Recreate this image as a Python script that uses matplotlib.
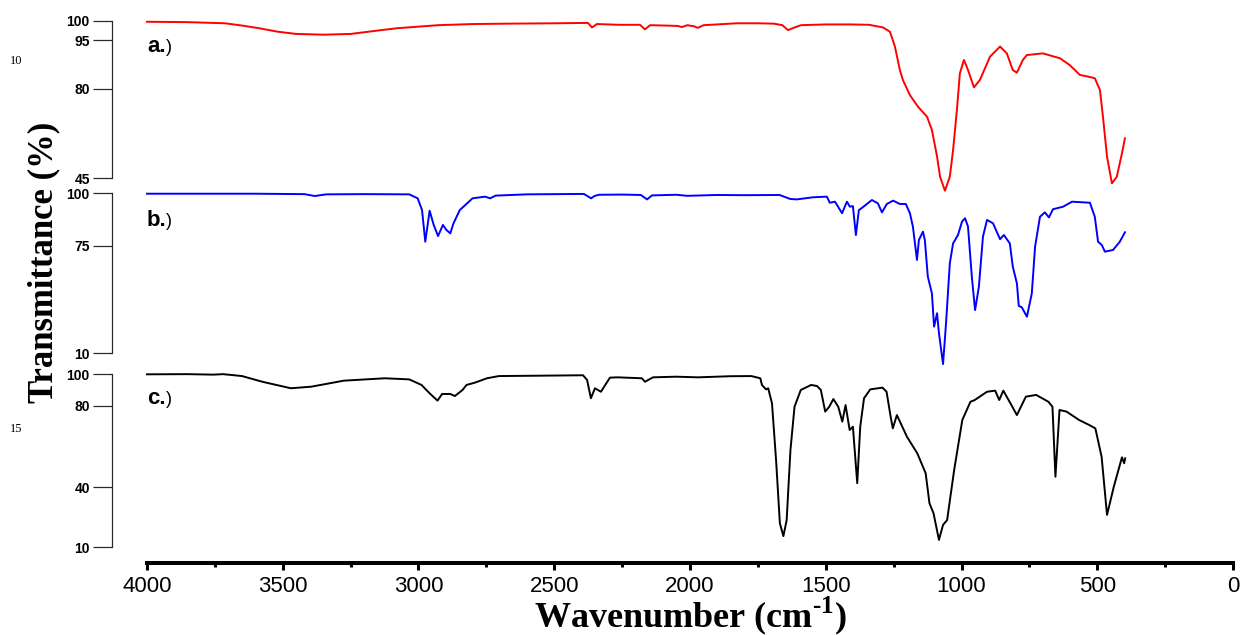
import numpy as np
import matplotlib
matplotlib.use("Agg")
import matplotlib.pyplot as plt
from matplotlib.ticker import NullLocator, FixedLocator

# ---------------- data ----------------
WN_A = [4000, 3850, 3713, 3650, 3587, 3520, 3451, 3348, 3249, 3160,
        3079, 2928, 2800, 2674, 2500, 2376, 2361, 2343, 2260, 2184,
        2166, 2147, 2090, 2045, 2030, 2010, 1985, 1971, 1950, 1900,
        1827, 1750, 1691, 1660, 1639, 1615, 1591, 1500, 1411, 1340,
        1289, 1264, 1253, 1245, 1227, 1216, 1190, 1160, 1127, 1109,
        1090, 1079, 1061, 1043, 1031, 1017, 1006, 991, 976, 954,
        932, 895, 858, 833, 811, 796, 774, 759, 700, 637,
        601, 564, 534, 509, 490, 479, 464, 446, 428, 409, 398]
T_A = [99.8, 99.7, 99.4, 98.8, 98.1, 97.2, 96.6, 96.4, 96.6, 97.4,
       98.1, 98.9, 99.2, 99.3, 99.4, 99.5, 98.3, 99.2, 99.0, 99.0,
       97.8, 98.9, 98.8, 98.7, 98.4, 98.9, 98.6, 98.2, 98.9, 99.1,
       99.4, 99.4, 99.3, 98.9, 97.6, 98.3, 98.9, 99.1, 99.1, 99.0,
       98.3, 97.2, 95.0, 92.9, 85.8, 82.8, 77.6, 73.0, 69.1, 63.9,
       53.4, 45.5, 40.0, 45.5, 56.0, 71.7, 84.8, 88.9, 85.8, 80.5,
       82.8, 89.9, 93.0, 90.9, 85.8, 85.0, 88.9, 90.4, 90.9, 89.4,
       87.3, 84.3, 83.8, 83.3, 79.6, 69.1, 53.4, 42.9, 45.5, 54.7, 60.6]

WN_B = [4000, 3600, 3420, 3382, 3340, 3200, 3034, 3003, 2987, 2975,
        2959, 2944, 2928, 2910, 2897, 2883, 2871, 2848, 2801, 2755,
        2736, 2716, 2600, 2391, 2364, 2352, 2335, 2250, 2181, 2158,
        2140, 2050, 2010, 1900, 1800, 1670, 1631, 1606, 1547, 1496,
        1485, 1466, 1440, 1422, 1411, 1400, 1389, 1378, 1367, 1330,
        1308, 1293, 1275, 1252, 1227, 1205, 1190, 1179, 1164, 1157,
        1142, 1135, 1124, 1109, 1101, 1090, 1083, 1068, 1057, 1043,
        1031, 1013, 998, 987, 976, 962, 950, 936, 921, 906,
        884, 858, 844, 822, 811, 796, 789, 778, 759, 741,
        729, 711, 693, 678, 663, 626, 593, 527, 509, 497,
        483, 472, 442, 417, 398]
T_B = [99.8, 99.8, 99.6, 98.7, 99.5, 99.6, 99.5, 97.6, 92.0, 76.9,
       91.7, 84.9, 79.6, 84.9, 82.5, 80.9, 85.7, 92.0, 97.6, 98.4,
       97.6, 98.9, 99.5, 99.7, 97.6, 98.7, 99.3, 99.4, 99.2, 97.1,
       99.0, 99.3, 98.8, 99.2, 99.1, 99.2, 97.3, 97.1, 98.1, 98.4,
       95.5, 96.0, 90.5, 96.0, 93.6, 93.9, 80.1, 92.0, 93.0, 96.8,
       95.2, 90.9, 94.9, 96.5, 94.9, 94.9, 90.5, 84.1, 66.4, 77.7,
       81.7, 77.7, 56.3, 46.2, 26.1, 34.2, 22.1, 3.5, 28.1, 64.4,
       76.1, 80.1, 86.5, 88.1, 84.1, 56.3, 36.1, 50.2, 79.3, 87.3,
       85.7, 78.1, 80.1, 76.1, 62.3, 52.3, 38.6, 37.8, 32.1, 46.2,
       74.4, 88.8, 90.9, 88.5, 92.4, 93.6, 96.0, 95.5, 88.8, 76.9,
       75.3, 71.4, 72.4, 76.9, 81.4]

WN_C = [4000, 3850, 3755, 3720, 3690, 3650, 3575, 3470, 3395, 3275,
        3124, 3034, 2989, 2959, 2930, 2913, 2883, 2866, 2838, 2823,
        2793, 2748, 2704, 2394, 2379, 2365, 2350, 2328, 2295, 2267,
        2177, 2166, 2136, 2050, 1971, 1850, 1774, 1741, 1735, 1720,
        1712, 1698, 1683, 1669, 1656, 1644, 1630, 1615, 1592, 1554,
        1532, 1518, 1502, 1487, 1472, 1454, 1439, 1427, 1412, 1400,
        1384, 1373, 1359, 1336, 1291, 1276, 1261, 1253, 1238, 1201,
        1163, 1132, 1118, 1103, 1083, 1068, 1053, 1027, 997, 967,
        952, 906, 876, 861, 846, 823, 796, 763, 725, 680,
        665, 654, 639, 613, 567, 529, 507, 484, 464, 439,
        409, 401, 397]
T_C = [99.8, 99.9, 99.6, 99.9, 99.4, 98.7, 95.1, 91.0, 92.0, 95.8,
       97.3, 96.6, 93.1, 87.8, 83.2, 87.4, 87.4, 86.1, 89.9, 93.1,
       94.5, 97.3, 98.7, 99.2, 96.2, 84.7, 91.0, 88.8, 97.7, 97.9,
       97.3, 95.1, 97.9, 98.3, 97.9, 98.6, 98.7, 97.3, 93.1, 90.3,
       91.0, 81.5, 53.4, 22.0, 15.6, 23.6, 58.3, 79.5, 89.9, 93.1,
       92.4, 89.9, 77.1, 79.5, 84.2, 79.5, 72.2, 80.4, 68.1, 69.7,
       42.0, 69.7, 84.7, 90.3, 91.4, 88.8, 74.6, 68.9, 75.4, 64.8,
       56.7, 46.9, 32.0, 27.0, 13.7, 21.2, 23.6, 48.5, 73.0, 82.5,
       83.5, 88.8, 89.5, 83.6, 89.5, 82.5, 75.4, 85.7, 86.8, 82.5,
       79.5, 45.2, 77.9, 77.1, 73.0, 70.5, 68.9, 55.0, 26.2, 40.3,
       54.7, 51.8, 54.2]

TICKS_A = [45, 80, 95, 100]
TICKS_B = [10, 75, 100]
TICKS_C = [10, 40, 80, 100]
X_TICKS = [4000, 3500, 3000, 2500, 2000, 1500, 1000, 500, 0]
LABELS = ["a.", "b.", "c."]

# ---------------- layout (pixels) ----------------
W, H = 1242, 635
TICK_PX_A = [178, 89, 40, 21]
TICK_PX_B = [353.3, 245.7, 193.3]
TICK_PX_C = [547.3, 487.3, 405.7, 374]
X_LEFT, X_RIGHT, X_AXIS_Y = 147, 1233, 563

plt.rcParams["font.family"] = ["Liberation Sans", "DejaVu Sans"]
plt.rcParams["mathtext.fontset"] = "custom"
plt.rcParams["mathtext.bf"] = "Liberation Serif:bold"
plt.rcParams["mathtext.rm"] = "Liberation Serif:bold"

fig = plt.figure(figsize=(W / 100, H / 100), dpi=100)


def fx(px):
    return px / W


def fy(py):
    return 1 - py / H


def make_funcs(vals, pix):
    v = np.array(vals, float)
    p = -np.array(pix, float)

    def lin(x, a, b):
        x = np.asarray(x, float)
        y = np.interp(x, a, b)
        s0 = (b[1] - b[0]) / (a[1] - a[0])
        s1 = (b[-1] - b[-2]) / (a[-1] - a[-2])
        y = np.where(x < a[0], b[0] + (x - a[0]) * s0, y)
        y = np.where(x > a[-1], b[-1] + (x - a[-1]) * s1, y)
        return y

    return (lambda x: lin(x, v, p)), (lambda y: lin(y, p, v))


panels = [
    (WN_A, T_A, "#ff0000", TICKS_A, TICK_PX_A, 10, 200, LABELS[0], 52),
    (WN_B, T_B, "#0000ff", TICKS_B, TICK_PX_B, 186, 372, LABELS[1], 226.5),
    (WN_C, T_C, "#000000", TICKS_C, TICK_PX_C, 368, 556, LABELS[2], 404.5),
]

spine_col = "#2a2a2a"
panel_axes = []
for wn, t, col, ticks, tpx, top, bot, lab, lab_y in panels:
    ax = fig.add_axes([fx(X_LEFT), fy(bot), (X_RIGHT - X_LEFT) / W, (bot - top) / H])
    ax.set_facecolor("none")
    fwd, inv = make_funcs(ticks, tpx)
    ax.set_yscale("function", functions=(fwd, inv))
    ax.set_ylim(float(inv(-bot)), float(inv(-top)))
    ax.set_xlim(4000, 0)
    ax.plot(wn, t, color=col, lw=1.4, clip_on=False)
    ax.yaxis.set_major_locator(FixedLocator(ticks))
    ax.yaxis.set_minor_locator(NullLocator())
    ax.set_xticks([])
    for s in ("top", "right", "bottom"):
        ax.spines[s].set_visible(False)
    ax.spines["left"].set_position(("outward", 25))
    ax.spines["left"].set_bounds(min(ticks), max(ticks))
    ax.spines["left"].set_linewidth(0.9)
    ax.spines["left"].set_color(spine_col)
    ax.tick_params(axis="y", direction="out", length=13.7, width=0.9,
                   pad=2.5, color=spine_col, labelsize=10)
    panel_axes.append(ax)
    fig.text(fx(147), fy(lab_y), lab, fontweight="bold", fontsize=16,
             va="baseline", ha="left")
    fig.text(fx(166), fy(lab_y), ")", fontsize=13, va="baseline", ha="left")

# bottom wavenumber axis
axx = fig.add_axes([fx(X_LEFT), fy(X_AXIS_Y), (X_RIGHT - X_LEFT) / W, 0.001])
axx.patch.set_visible(False)
axx.set_xlim(4000, 0)
axx.set_yticks([])
for s in ("top", "right", "left"):
    axx.spines[s].set_visible(False)
axx.spines["bottom"].set_linewidth(2.9)
axx.spines["bottom"].set_color("black")
axx.xaxis.set_major_locator(FixedLocator(X_TICKS))
axx.xaxis.set_minor_locator(FixedLocator([3750, 3250, 2750, 2250, 1750, 1250, 750, 250]))
axx.tick_params(axis="x", which="major", direction="out", length=5, width=2.2,
                pad=4, labelsize=16)
axx.tick_params(axis="x", which="minor", direction="out", length=3, width=2.2)

fig.text((X_LEFT + X_RIGHT) / 2 / W, fy(627), "Wavenumber (cm$^{\\text{-1}}$)",
         fontfamily="Liberation Serif", fontweight="bold", fontsize=26,
         ha="center", va="baseline")
fig.text(fx(44), fy(262), "Transmittance (%)", rotation=90,
         fontfamily="Liberation Serif", fontweight="bold", fontsize=25,
         ha="center", va="center")

# stray line numbers from the source document
fig.text(fx(16), fy(61), "10", fontfamily="Liberation Serif", fontsize=9,
         ha="center", va="center")
fig.text(fx(16), fy(429), "15", fontfamily="Liberation Serif", fontsize=9,
         ha="center", va="center")

fig.canvas.draw()
for ax in panel_axes:
    for lbl in ax.get_yticklabels():
        lbl.set_fontweight("bold")

fig.savefig("out.png", dpi=100)
